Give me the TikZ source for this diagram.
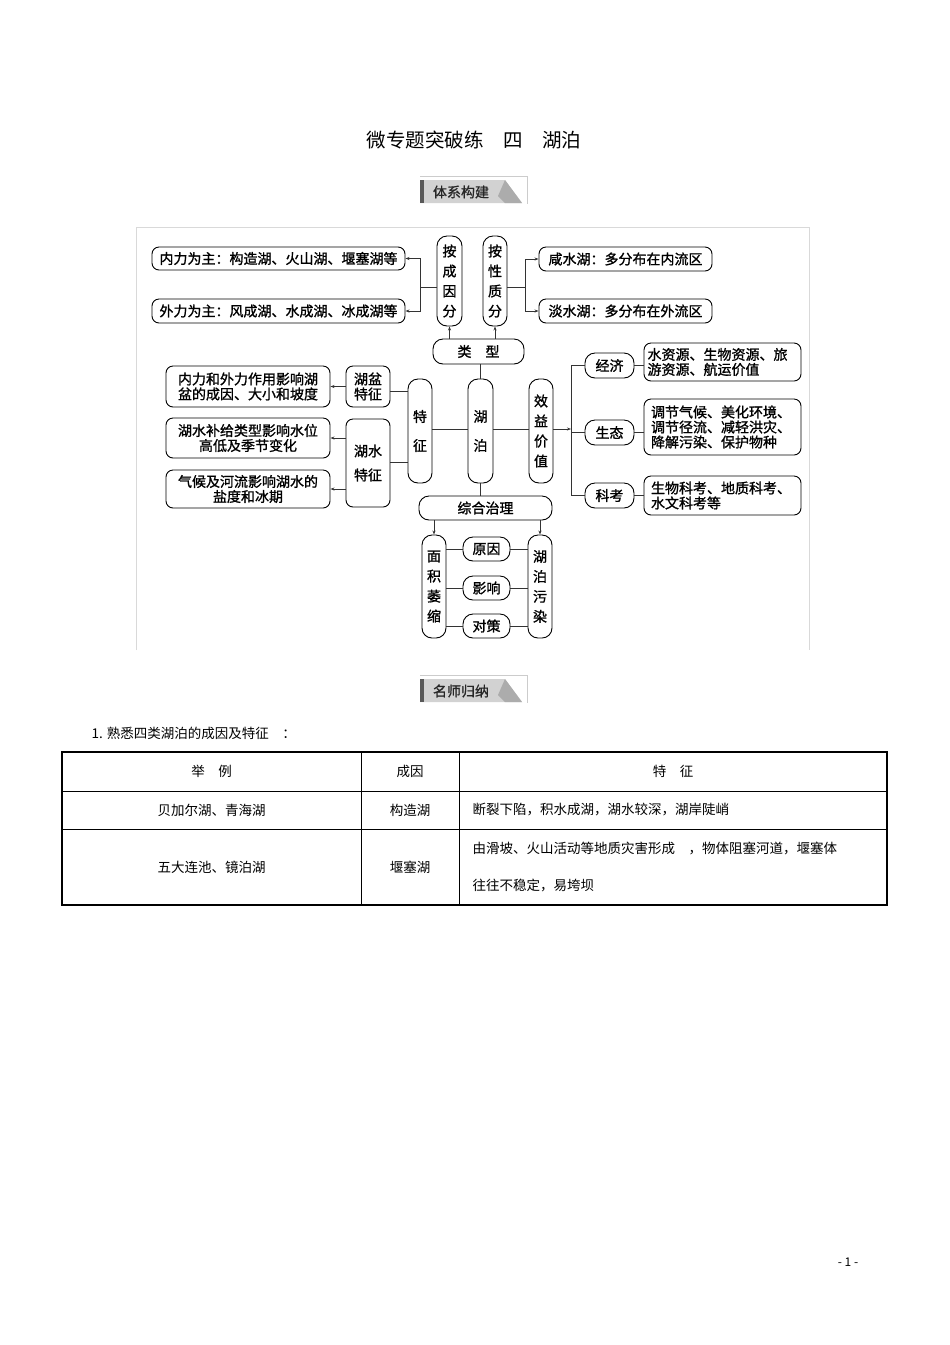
\documentclass[tikz,border=0pt]{standalone}
\usepackage{fontspec}
\setmainfont{Noto Sans CJK SC}
\usetikzlibrary{arrows.meta}
\begin{document}
\begin{tikzpicture}[x=1pt,y=-1pt,
  bx/.style={draw, line width=0.9pt, rounded corners=7pt, inner sep=0pt, align=center, font=\fontsize{14}{15}\selectfont\addfontfeature{FakeBold=1.2}},
  vb/.style={bx, rounded corners=10pt, font=\fontsize{14}{20}\selectfont\addfontfeature{FakeBold=1.2}},
  ln/.style={line width=0.8pt, draw=black!80},
  ar/.style={ln, -{Stealth[length=4pt,width=3pt]}},
  tb/.style={font=\fontsize{13.5}{16}\selectfont}]
\useasboundingbox (0,0) rectangle (950,1345);
\fill[white] (0,0) rectangle (950,1345);
% title
\node (title) at (474,140) {\fontsize{19.5}{20}\selectfont 微专题突破练\quad 四\quad 湖泊};
\foreach \yy/\tt [count=\i] in {176/体系构建, 675/名师归纳}{
  \draw[gray!40, line width=0.6pt] (420,\yy) -- (527,\yy) (527,\yy) -- (527,\yy+28);
  \fill[gray!35] (420,\yy+4) -- (505,\yy+4) -- (522,\yy+27) -- (420,\yy+27) -- cycle;
  \fill[gray!65] (505,\yy+4) -- (522,\yy+27) -- (505,\yy+27) -- (498,\yy+20) -- cycle;
  \fill[gray!70!black] (420,\yy+4) rectangle (424,\yy+27);
  \node[font=\fontsize{14}{15}\selectfont\addfontfeature{FakeBold=1}, text=black!85] (badge\i) at (461,\yy+16) {\tt};
}
\draw[gray!30, line width=0.6pt] (136,650) -- (136,227) -- (809,227) -- (809,650);
% type section
\node[bx, minimum width=253, minimum height=23] (neili) at (278.5,258.5) {内力为主：构造湖、火山湖、堰塞湖等};
\node[bx, minimum width=253, minimum height=24] (waili) at (278.5,311) {外力为主：风成湖、水成湖、冰成湖等};
\node[vb, minimum width=25, minimum height=90] (chengyin) at (449.5,281) {按\\成\\因\\分};
\node[vb, minimum width=24, minimum height=90] (xingzhi) at (495,281) {按\\性\\质\\分};
\node[bx, minimum width=91, minimum height=25, rounded corners=10pt] (leixing) at (478.5,351.5) {类\quad 型};
\node[bx, minimum width=173, minimum height=24] (xian) at (625.5,259) {咸水湖：多分布在内流区};
\node[bx, minimum width=173, minimum height=24] (dan) at (625.5,311) {淡水湖：多分布在外流区};
\coordinate (lj) at (420,287);
\coordinate (rj) at (525,287);
\draw[ln] (chengyin.west |- lj) -- (lj);
\draw[ar] (lj) |- (neili.east);
\draw[ar] (lj) |- (waili.east);
\draw[ln] (xingzhi.east |- rj) -- (rj);
\draw[ar] (rj) |- (xian.west);
\draw[ar] (rj) |- (dan.west);
\draw[ar] (leixing.north -| chengyin) -- (chengyin.south);
\draw[ar] (leixing.north -| xingzhi) -- (xingzhi.south);
% center
\node[vb, minimum width=25, minimum height=104] (hupo) at (480.5,431) {湖\\[9pt]泊};
\node[vb, minimum width=24, minimum height=104] (tezheng) at (420,431) {特\\[9pt]征};
\node[vb, minimum width=24, minimum height=104] (xiaoyi) at (541,431) {效\\益\\价\\值};
\draw[ln] (leixing.south -| hupo) -- (hupo.north);
\draw[ln] (hupo.west |- 0,429) -- (tezheng.east |- 0,429);
\draw[ln] (hupo.east |- 0,429) -- (xiaoyi.west |- 0,429);
% left features
\node[bx, minimum width=44, minimum height=41] (hupen) at (368,386.5) {湖盆\\特征};
\node[bx, minimum width=44, minimum height=88, font=\fontsize{14}{24}\selectfont\addfontfeature{FakeBold=1.2}] (hushui) at (368,463) {湖水\\特征};
\node[bx, minimum width=164, minimum height=41] (f1) at (248,386.5) {内力和外力作用影响湖\\盆的成因、大小和坡度};
\node[bx, minimum width=164, minimum height=40] (f2) at (248,438) {湖水补给类型影响水位\\高低及季节变化};
\node[bx, minimum width=164, minimum height=38] (f3) at (248,489) {气候及河流影响湖水的\\盐度和冰期};
\draw[ln] (tezheng.west |- 0,391) -- (hupen.east |- 0,391);
\draw[ln] (tezheng.west |- 0,462) -- (hushui.east |- 0,462);
\draw[ar] (hupen.west |- f1) -- (f1.east);
\draw[ar] (hushui.west |- f2) -- (f2.east);
\draw[ar] (hushui.west |- f3) -- (f3.east);
% right values
\coordinate (bus) at (571,429);
\node[bx, minimum width=49, minimum height=25, rounded corners=10pt] (jingji) at (609.5,365.5) {经济};
\node[bx, minimum width=49, minimum height=25, rounded corners=10pt] (shengtai) at (609.5,432.5) {生态};
\node[bx, minimum width=49, minimum height=25, rounded corners=10pt] (kekao) at (609.5,495.5) {科考};
\node[bx, minimum width=157, minimum height=38, align=left, text width=150] (v1) at (722.5,362) {水资源、生物资源、旅\\游资源、航运价值};
\node[bx, minimum width=157, minimum height=56, align=left, text width=143] (v2) at (722.5,427) {调节气候、美化环境、\\调节径流、减轻洪灾、\\降解污染、保护物种};
\node[bx, minimum width=157, minimum height=39, align=left, text width=143] (v3) at (722.5,495.5) {生物科考、地质科考、\\水文科考等};
\draw[ar] (xiaoyi.east |- bus) -- (bus);
\draw[ln] (bus |- jingji) -- (bus |- kekao);
\draw[ln] (bus |- jingji) -- (jingji.west);
\draw[ln] (bus |- shengtai) -- (shengtai.west);
\draw[ln] (bus |- kekao) -- (kekao.west);
\draw[ln] (jingji.east) -- (v1.west |- jingji);
\draw[ln] (shengtai.east) -- (v2.west |- shengtai);
\draw[ln] (kekao.east) -- (v3.west |- kekao);
% governance
\node[bx, minimum width=133, minimum height=24, rounded corners=10pt] (zhili) at (485.5,508) {综合治理};
\draw[ln] (hupo.south) -- (zhili.north -| hupo);
\node[vb, minimum width=24, minimum height=103] (mianji) at (434,586.5) {面\\积\\萎\\缩};
\node[vb, minimum width=24, minimum height=103] (wuran) at (540,586.5) {湖\\泊\\污\\染};
\draw[ar] (zhili.south -| mianji) -- (mianji.north);
\draw[ar] (zhili.south -| wuran) -- (wuran.north);
\foreach \n/\t/\yy in {yuanyin/原因/549, yingxiang/影响/588, duice/对策/626}{
  \node[bx, minimum width=47, minimum height=24, rounded corners=10pt] (\n) at (486.5,\yy) {\t};
  \draw[ln] (mianji.east |- \n) -- (\n.west);
  \draw[ln] (\n.east) -- (wuran.west |- \n);
}
% text and table
\node[anchor=west, tb] (intro) at (88,733) {1. 熟悉四类湖泊的成因及特征\quad ：};
\draw[line width=0.7pt] (62,791) -- (887,791) (62,829) -- (887,829) (361,752) -- (361,905) (459,752) -- (459,905);
\draw[line width=2pt] (62,752) rectangle (887,905);
\node[tb] (h1) at (211.5,771) {举\quad 例};
\node[tb] (h2) at (410,771) {成因};
\node[tb] (h3) at (673,771) {特\quad 征};
\node[tb] (r1a) at (211.5,810) {贝加尔湖、青海湖};
\node[tb] (r1b) at (410,810) {构造湖};
\node[tb, anchor=west] (r1c) at (469,810) {断裂下陷，积水成湖，湖水较深，湖岸陡峭};
\node[tb] (r2a) at (211.5,867) {五大连池、镜泊湖};
\node[tb] (r2b) at (410,867) {堰塞湖};
\node[tb, anchor=west] (r2c) at (469,848) {由滑坡、火山活动等地质灾害形成\quad ，物体阻塞河道，堰塞体};
\node[tb, anchor=west] (r2d) at (469,885) {往往不稳定，易垮坝};
\node[font=\fontsize{12}{13}\selectfont] (page) at (848,1262) {- 1 -};
\end{tikzpicture}
\end{document}
